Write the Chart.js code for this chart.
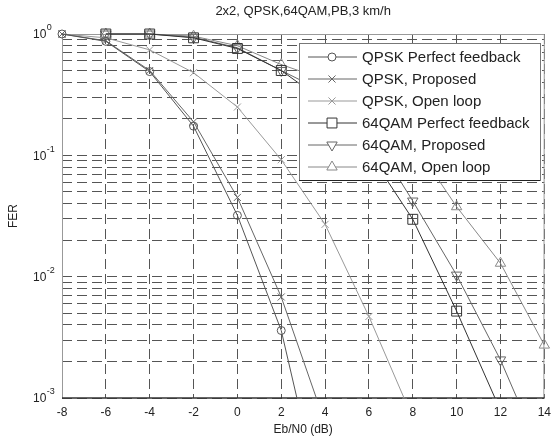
<!DOCTYPE html>
<html lang="en">
<head>
    <meta charset="UTF-8">
    <title>2x2, QPSK,64QAM,PB,3 km/h</title>
    <script src="https://cdn.jsdelivr.net/npm/chart.js"></script>
    <style>
        body {
            margin: 0;
            padding: 0;
            background: #fff;
        }
        #wrap {
            width: 558px;
            height: 439px;
        }
    </style>
</head>
<body>
    <div id="wrap"><canvas id="fer" width="558" height="439"></canvas></div>

    <script>
        // Eb/N0 points (dB) and FER
        const ebn0 = [-8, -6, -4, -2, 0, 2, 4, 6, 8, 10, 12, 14];
        const qpskPerfect  = [1, 0.87, 0.49, 0.174, 0.032, 0.0036, 0.0001, null, null, null, null, null];
        const qpskProposed = [1, 0.88, 0.5, 0.189, 0.045, 0.0068, 0.00062, null, null, null, null, null];
        const qpskOpen     = [1, 0.93, 0.74, 0.48, 0.25, 0.092, 0.027, 0.0047, 0.00068, null, null, null];
        const qamPerfect   = [null, 1, 1, 0.93, 0.76, 0.5, 0.275, 0.105, 0.0297, 0.0052, 0.00079, null];
        const qamProposed  = [null, 1, 1, 0.94, 0.77, 0.5, 0.33, 0.16, 0.042, 0.0103, 0.00206, 0.0003];
        const qamOpen      = [null, 1, 1, 0.96, 0.8, 0.56, 0.42, 0.26, 0.13, 0.0377, 0.0129, 0.00273];

        const seriesNames = [
            'QPSK Perfect feedback', 'QPSK, Proposed', 'QPSK, Open loop',
            '64QAM Perfect feedback', '64QAM, Proposed', '64QAM, Open loop'
        ];

        // axis ticks
        const xTicks = [-8, -6, -4, -2, 0, 2, 4, 6, 8, 10, 12, 14];
        const yDecades = [-3, -2, -1, 0];
        const yMinorSteps = [1, 2, 3, 4, 5, 6, 7, 8, 9];

        const FONT = "'Liberation Sans', Arial, sans-serif";
        Chart.defaults.font.family = FONT;
        Chart.defaults.color = '#222';

        function pts(arr) {
            return ebn0.map((x, i) => ({ x: x, y: arr[i] }));
        }

        function makeSet(label, arr, color, style, radius, rotation) {
            return {
                label: label,
                data: pts(arr),
                borderColor: color,
                borderWidth: 1,
                pointStyle: style,
                pointRadius: radius,
                pointRotation: rotation || 0,
                pointBorderColor: color,
                pointBorderWidth: 1,
                pointBackgroundColor: 'rgba(0,0,0,0)',
                spanGaps: false,
                clip: { left: 10, top: 10, right: 10, bottom: 0 }
            };
        }

        const datasets = [
            makeSet(seriesNames[0], qpskPerfect, '#555', 'circle', 4),
            makeSet(seriesNames[1], qpskProposed, '#666', 'crossRot', 5),
            makeSet(seriesNames[2], qpskOpen, '#999', 'crossRot', 5),
            makeSet(seriesNames[3], qamPerfect, '#333', 'rect', 7),
            makeSet(seriesNames[4], qamProposed, '#666', 'triangle', 6, 180),
            makeSet(seriesNames[5], qamOpen, '#888', 'triangle', 6)
        ];

        // box around the axes, drawn under the curves
        const framePlugin = {
            id: 'frame',
            beforeDatasetsDraw(chart) {
                const { ctx, chartArea: a } = chart;
                ctx.save();
                ctx.lineWidth = 1;
                ctx.strokeStyle = '#999';
                ctx.beginPath();
                ctx.moveTo(a.left + 0.5, a.bottom);
                ctx.lineTo(a.left + 0.5, a.top + 0.5);
                ctx.lineTo(a.right, a.top + 0.5);
                ctx.lineTo(a.right - 0.5, a.bottom);
                ctx.stroke();
                ctx.strokeStyle = '#333';
                ctx.lineWidth = 1.5;
                ctx.beginPath();
                ctx.moveTo(a.left, a.bottom);
                ctx.lineTo(a.right, a.bottom);
                ctx.stroke();
                ctx.restore();
            }
        };

        // matlab style legend box in the top right corner
        const legendPlugin = {
            id: 'matLegend',
            afterDatasetsDraw(chart) {
                const { ctx, chartArea: a } = chart;
                const left = a.left + 237, top = a.top + 9;
                const w = 241, h = 137;
                ctx.save();
                ctx.fillStyle = '#fff';
                ctx.fillRect(left, top, w, h);
                ctx.strokeStyle = '#777';
                ctx.lineWidth = 1;
                ctx.strokeRect(left + 0.5, top + 0.5, w, h);
                ctx.strokeStyle = '#222';
                ctx.beginPath();
                ctx.moveTo(left, top + h + 0.5);
                ctx.lineTo(left + w, top + h + 0.5);
                ctx.stroke();

                ctx.textBaseline = 'middle';
                ctx.textAlign = 'left';
                chart.data.datasets.forEach((ds, i) => {
                    const y = top + 14 + i * 22;
                    ctx.strokeStyle = ds.borderColor;
                    ctx.lineWidth = 1;
                    ctx.beginPath();
                    ctx.moveTo(left + 9, y);
                    ctx.lineTo(left + 58, y);
                    ctx.stroke();
                    ctx.fillStyle = '#fff';
                    Chart.helpers.drawPoint(ctx, {
                        pointStyle: ds.pointStyle,
                        radius: ds.pointRadius,
                        rotation: ds.pointRotation,
                        borderWidth: 1
                    }, left + 33, y);
                    ctx.font = '15px ' + FONT;
                    ctx.fillStyle = '#222';
                    ctx.fillText(ds.label, left + 63, y + 1);
                });
                ctx.restore();
            },
        };

        // 10^n labels with raised exponent
        const yLabelPlugin = {
            id: 'yLabels',
            afterDraw(chart) {
                const { ctx } = chart;
                const y = chart.scales.y;
                ctx.save();
                ctx.fillStyle = '#222';
                ctx.textAlign = 'left';
                ctx.textBaseline = 'middle';
                yDecades.forEach(e => {
                    const py = y.getPixelForValue(Math.pow(10, e));
                    ctx.font = '12px ' + FONT;
                    ctx.fillText('10', 33, py + 1);
                    const w = ctx.measureText('10').width;
                    ctx.font = '9px ' + FONT;
                    ctx.fillText(String(e), 33 + w + 0.5, py - 6);
                });
                ctx.restore();
            }
        };

        const gridColor = '#555';

        new Chart(document.getElementById('fer').getContext('2d'), {
            type: 'line',
            data: { datasets: datasets },
            options: {
                responsive: false,
                animation: false,
                layout: { padding: { left: 0, right: 9, top: 0, bottom: 0 } },
                plugins: {
                    legend: { display: false },
                    tooltip: { enabled: false },
                    title: {
                        display: true,
                        fullSize: false,
                        text: '2x2, QPSK,64QAM,PB,3 km/h',
                        color: '#222',
                        font: { size: 13, weight: 'normal' },
                        padding: { top: 4, bottom: 14.4 }
                    }
                },
                scales: {
                    x: {
                        type: 'linear',
                        min: -8,
                        max: 14,
                        afterBuildTicks: s => { s.ticks = xTicks.map(v => ({ value: v })); },
                        afterFit: s => { s.height = 41; },
                        grid: { color: gridColor, lineWidth: 1, drawTicks: false },
                        border: { display: false, dash: [10, 5] },
                        ticks: { padding: 7, font: { size: 12 }, color: '#222', maxRotation: 0, autoSkip: false },
                        title: { display: true, text: 'Eb/N0 (dB)', font: { size: 12 }, color: '#222', padding: { top: 0, bottom: 2.3 } }
                    },
                    y: {
                        type: 'logarithmic',
                        min: 1e-3,
                        max: 1,
                        afterBuildTicks: s => {
                            const t = [];
                            yDecades.forEach(e => {
                                yMinorSteps.forEach(m => {
                                    if (e === 0 && m > 1) return;
                                    t.push({ value: m * Math.pow(10, e), major: m === 1 });
                                });
                            });
                            s.ticks = t;
                        },
                        afterFit: s => { s.width = 62; },
                        grid: { color: gridColor, lineWidth: 1, drawTicks: false },
                        border: { display: false, dash: [10, 5] },
                        ticks: { display: false, autoSkip: false },
                        title: { display: true, text: 'FER', font: { size: 12 }, color: '#222', padding: { top: 6, bottom: 0 } }
                    }
                }
            },
            plugins: [framePlugin, legendPlugin, yLabelPlugin]
        });
    </script>
</body>
</html>
